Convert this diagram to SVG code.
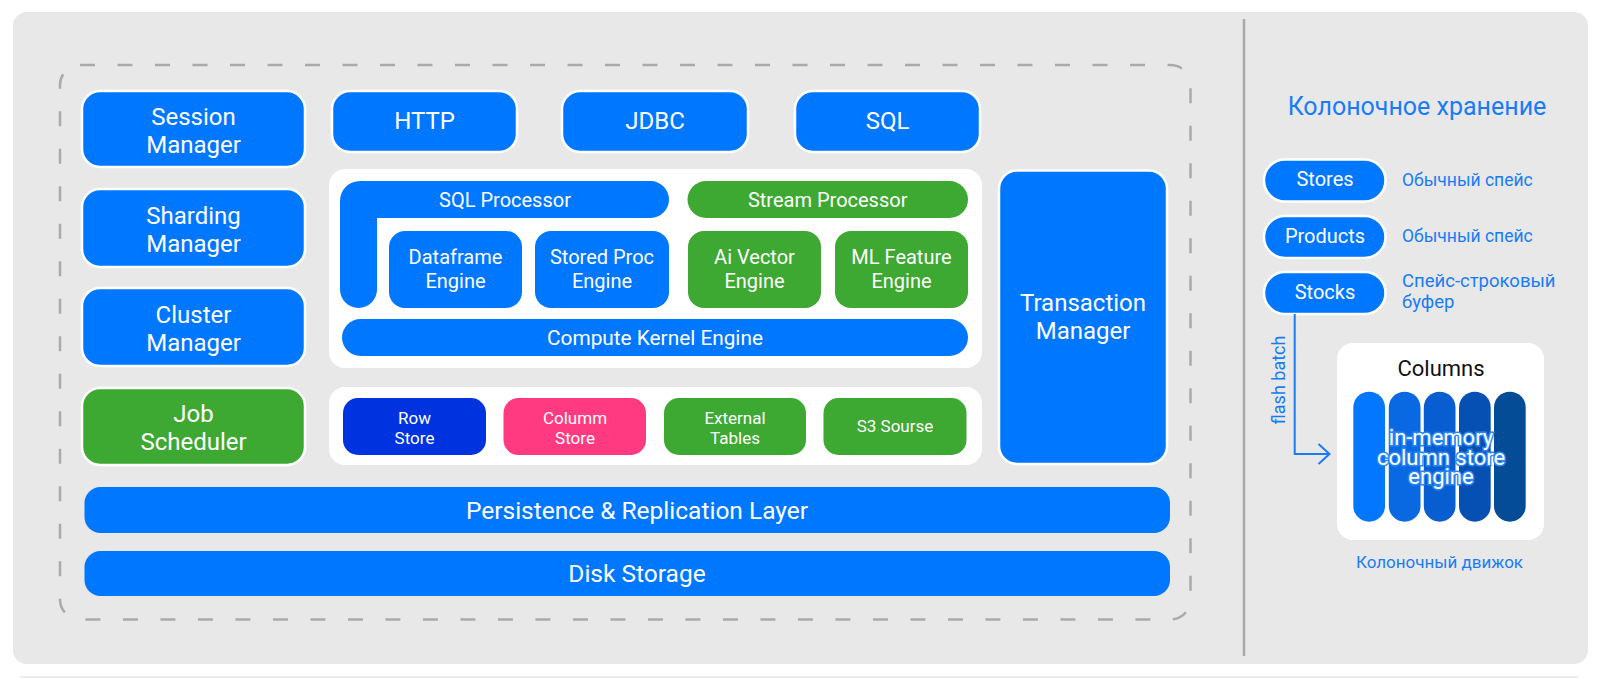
<svg xmlns="http://www.w3.org/2000/svg" width="1600" height="678" viewBox="0 0 1600 678">
<defs>
<style>
text{font-family:Roboto,"Liberation Sans","Noto Sans",sans-serif;}
.lbl{fill:#ffffff;text-anchor:middle;}
.big{font-size:24px;}
.mid{font-size:20px;}
.sm{font-size:17px;}
.bar{font-size:24.5px;}
.blue{fill:#0077ff;}
.blueS{fill:#0077ff;stroke:#ffffff;stroke-width:2.5;}
.greenS{fill:#3da832;stroke:#ffffff;stroke-width:2.5;}
.green{fill:#3da832;}
.note{fill:#1a7cf5;font-size:17.5px;}
</style>
</defs>
<rect x="0" y="0" width="1600" height="678" fill="#ffffff"/>
<rect x="13" y="12" width="1575" height="652" rx="14" fill="#e8e8e8"/>
<rect x="20" y="676" width="1558" height="2" fill="#ececec"/>
<line x1="1244" y1="19" x2="1244" y2="656" stroke="#a8a8a8" stroke-width="2.5"/>
<rect x="60" y="65" width="1130.5" height="554.5" rx="20" fill="none" stroke="#aaaaaa" stroke-width="2.5" stroke-dasharray="15 22.5"/>

<g id="session-manager"><rect class="blueS" x="82" y="91" width="223" height="76" rx="18"/><text class="lbl big" x="193.5" y="125">Session</text><text class="lbl big" x="193.5" y="153">Manager</text></g>
<g id="sharding-manager"><rect class="blueS" x="82" y="189" width="223" height="78" rx="18"/><text class="lbl big" x="193.5" y="224">Sharding</text><text class="lbl big" x="193.5" y="252">Manager</text></g>
<g id="cluster-manager"><rect class="blueS" x="82" y="288" width="223" height="78" rx="18"/><text class="lbl big" x="193.5" y="323">Cluster</text><text class="lbl big" x="193.5" y="351">Manager</text></g>
<g id="job-scheduler"><rect class="greenS" x="82" y="388" width="223" height="77" rx="18"/><text class="lbl big" x="193.5" y="422">Job</text><text class="lbl big" x="193.5" y="450">Scheduler</text></g>

<g id="http"><rect class="blueS" x="332" y="91" width="185" height="61" rx="18"/><text class="lbl big" x="424.5" y="129">HTTP</text></g>
<g id="jdbc"><rect class="blueS" x="562" y="91" width="186" height="61" rx="18"/><text class="lbl big" x="655" y="129">JDBC</text></g>
<g id="sql"><rect class="blueS" x="795" y="91" width="185" height="61" rx="18"/><text class="lbl big" x="887.5" y="129">SQL</text></g>

<g id="compute-container"><rect x="329" y="169" width="653" height="199" rx="16" fill="#ffffff"/></g>
<g id="sql-processor"><path class="blue" d="M360 181 H650.5 A18.5 18.5 0 0 1 650.5 218 H377 V289.5 A18.5 18.5 0 0 1 340 289.5 V201 A20 20 0 0 1 360 181 Z"/><text class="lbl mid" x="505" y="207">SQL Processor</text></g>
<g id="dataframe-engine"><rect class="blue" x="389" y="231" width="133" height="77" rx="16"/><text class="lbl mid" x="455.5" y="264">Dataframe</text><text class="lbl mid" x="455.5" y="288">Engine</text></g>
<g id="stored-proc-engine"><rect class="blue" x="535" y="231" width="134" height="77" rx="16"/><text class="lbl mid" x="602" y="264">Stored Proc</text><text class="lbl mid" x="602" y="288">Engine</text></g>
<g id="stream-processor"><rect class="green" x="687.5" y="181" width="280.5" height="37" rx="18.5"/><text class="lbl mid" x="827.7" y="207">Stream Processor</text></g>
<g id="ai-vector-engine"><rect class="green" x="688" y="231" width="133" height="77" rx="16"/><text class="lbl mid" x="754.5" y="264">Ai Vector</text><text class="lbl mid" x="754.5" y="288">Engine</text></g>
<g id="ml-feature-engine"><rect class="green" x="835" y="231" width="133" height="77" rx="16"/><text class="lbl mid" x="901.5" y="264">ML Feature</text><text class="lbl mid" x="901.5" y="288">Engine</text></g>
<g id="compute-kernel-engine"><rect class="blue" x="342" y="319" width="626" height="37" rx="18.5"/><text class="lbl" style="font-size:20.8px" x="655" y="345">Compute Kernel Engine</text></g>

<g id="storage-container"><rect x="329" y="387" width="653" height="78" rx="16" fill="#ffffff"/></g>
<g id="row-store"><rect x="343" y="398" width="143" height="57" rx="15" fill="#0033e0"/><text class="lbl sm" x="414.5" y="424">Row</text><text class="lbl sm" x="414.5" y="444">Store</text></g>
<g id="column-store"><rect x="503.5" y="398" width="142.5" height="57" rx="15" fill="#ff3a80"/><text class="lbl sm" x="575" y="424">Columm</text><text class="lbl sm" x="575" y="444">Store</text></g>
<g id="external-tables"><rect class="green" x="664" y="398" width="142" height="57" rx="15"/><text class="lbl sm" x="735" y="424">External</text><text class="lbl sm" x="735" y="444">Tables</text></g>
<g id="s3-source"><rect class="green" x="823.5" y="398" width="143" height="57" rx="15"/><text class="lbl sm" x="895" y="432">S3 Sourse</text></g>

<g id="transaction-manager"><rect class="blueS" x="999" y="170.5" width="168" height="293.5" rx="18"/><text class="lbl big" x="1083" y="311">Transaction</text><text class="lbl big" x="1083" y="339">Manager</text></g>

<g id="persistence-layer"><rect class="blue" x="84.5" y="487" width="1085.5" height="46" rx="16"/><text class="lbl bar" x="637" y="518.5">Persistence &amp; Replication Layer</text></g>
<g id="disk-storage"><rect class="blue" x="84.5" y="551" width="1085.5" height="45" rx="16"/><text class="lbl bar" x="637" y="582">Disk Storage</text></g>

<text x="1417" y="115" style="font-size:25px;fill:#1a7cf5;text-anchor:middle">Колоночное хранение</text>

<g id="stores"><rect class="blueS" x="1264" y="159.5" width="121.5" height="42" rx="21"/><text class="lbl" style="font-size:20px" x="1325" y="186">Stores</text><text class="note" x="1402" y="186">Обычный спейс</text></g>
<g id="products"><rect class="blueS" x="1264" y="216" width="121.5" height="42" rx="21"/><text class="lbl" style="font-size:20px" x="1325" y="242.5">Products</text><text class="note" x="1402" y="242">Обычный спейс</text></g>
<g id="stocks"><rect class="blueS" x="1264" y="272" width="121.5" height="42" rx="21"/><text class="lbl" style="font-size:20px" x="1325" y="298.5">Stocks</text><text class="note" x="1402" y="287" style="font-size:18.5px">Спейс-строковый</text><text class="note" x="1402" y="308" style="font-size:18.5px">буфер</text></g>

<g id="columns-engine">
<rect x="1337" y="343" width="207" height="197" rx="16" fill="#ffffff"/>
<text x="1441" y="376" style="font-size:22px;fill:#111111;text-anchor:middle">Columns</text>
<rect x="1353.3" y="391.7" width="31.7" height="130" rx="15.85" fill="#0377ff"/>
<rect x="1388.8" y="391.7" width="31.7" height="130" rx="15.85" fill="#0969e3"/>
<rect x="1423.8" y="391.7" width="31.7" height="130" rx="15.85" fill="#085dd0"/>
<rect x="1459" y="391.7" width="31.7" height="130" rx="15.85" fill="#0650b4"/>
<rect x="1494" y="391.7" width="31.7" height="130" rx="15.85" fill="#044c96"/>
<g style="font-size:22px;fill:#ffffff;text-anchor:middle;stroke:#2a86f5;stroke-width:3;paint-order:stroke">
<text x="1441" y="445">in-memory</text><text x="1441" y="465">column store</text><text x="1441" y="484">engine</text>
</g>
<text x="1439.5" y="568" style="font-size:17px;fill:#1a7cf5;text-anchor:middle">Колоночный движок</text>
</g>

<g id="connectors" fill="none" stroke="#1a7cf5" stroke-width="2">
<path d="M1294.7 314 V454 H1329"/>
<path d="M1318.5 444 L1329.5 454 L1318.5 464"/>
<text transform="translate(1285 380) rotate(-90)" style="font-size:18px;fill:#1a7cf5;stroke:none;text-anchor:middle">flash batch</text>
</g>
</svg>
